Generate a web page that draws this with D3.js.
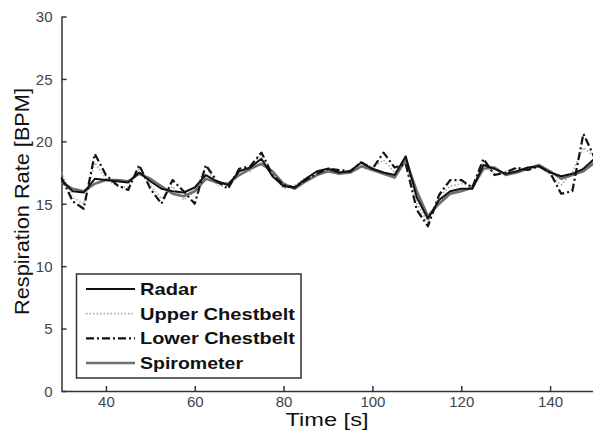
<!DOCTYPE html>
<html>
<head>
<meta charset="utf-8">
<script src="https://d3js.org/d3.v7.min.js"></script>
<style>
  html, body { margin: 0; padding: 0; background: #fff; }
  svg { display: block; }
</style>
</head>
<body>
<svg id="chart" width="593" height="439"></svg>
<script>
// Sample times (s)
const time = [30, 32.5, 35, 37.5, 40, 42.5, 45, 47.5, 50, 52.5, 55, 57.5, 60, 62.5, 65, 67.5,
  70, 72.5, 75, 77.5, 80, 82.5, 85, 87.5, 90, 92.5, 95, 97.5, 100, 102.5, 105, 107.5,
  110, 112.5, 115, 117.5, 120, 122.5, 125, 127.5, 130, 132.5, 135, 137.5, 140, 142.5,
  145, 147.5, 150];

// Respiration rate estimates (BPM) per sensor
const radar = [16.9, 16.0, 15.9, 17.0, 16.9, 16.8, 16.7, 17.5, 16.8, 16.2, 16.0, 15.9, 16.3, 17.3, 16.8, 16.5,
  17.6, 17.9, 18.6, 17.2, 16.4, 16.3, 17.0, 17.6, 17.8, 17.5, 17.6, 18.3, 17.8, 17.5, 17.3, 18.8,
  15.5, 13.8, 15.3, 16.0, 16.2, 16.2, 18.1, 17.8, 17.4, 17.6, 17.9, 18.0, 17.5, 17.2,
  17.4, 17.8, 18.6];

const upperChestbelt = [17.5, 15.5, 15.0, 18.3, 17.0, 16.4, 16.3, 17.9, 16.5, 15.4, 16.4, 15.3, 16.0, 18.0, 16.5, 16.3,
  17.8, 17.6, 19.1, 17.5, 16.2, 16.5, 17.1, 17.4, 17.9, 17.6, 17.7, 18.4, 17.9, 18.5, 17.5, 18.3,
  15.0, 13.5, 15.6, 16.4, 16.6, 16.4, 18.4, 17.4, 17.6, 17.8, 17.8, 18.0, 17.3, 16.5,
  17.5, 19.5, 18.8];

const lowerChestbelt = [17.1, 15.2, 14.6, 19.0, 17.3, 16.5, 16.1, 18.1, 16.2, 15.0, 16.9, 16.0, 15.0, 18.1, 16.8, 16.2,
  17.8, 18.0, 19.1, 17.3, 16.5, 16.3, 16.9, 17.4, 17.8, 17.7, 17.6, 18.3, 17.8, 19.1, 17.9, 18.2,
  14.5, 13.2, 15.7, 16.9, 16.9, 16.3, 18.6, 17.3, 17.5, 17.9, 17.7, 18.0, 17.5, 15.8,
  16.0, 20.6, 18.7];

const spirometer = [16.7, 16.2, 16.0, 16.6, 16.9, 16.9, 16.8, 17.4, 17.0, 16.4, 15.8, 15.6, 16.0, 17.0, 16.7, 16.6,
  17.3, 17.8, 18.2, 17.6, 16.6, 16.2, 16.8, 17.3, 17.6, 17.4, 17.5, 18.0, 17.7, 17.4, 17.1, 18.5,
  16.0, 14.0, 15.0, 15.8, 16.0, 16.3, 17.8, 17.9, 17.3, 17.5, 17.8, 18.1, 17.6, 17.0,
  17.3, 17.6, 18.3];

const xTicks = [40, 60, 80, 100, 120, 140];
const yTicks = [0, 5, 10, 15, 20, 25, 30];
const seriesNames = ["Radar", "Upper Chestbelt", "Lower Chestbelt", "Spirometer"];

const svg = d3.select("#chart");
const plotLeft = 61.5, plotRight = 594.5, plotTop = 16.5, plotBottom = 391;

const x = d3.scaleLinear().domain([30, 150]).range([plotLeft, plotRight]);
const y = d3.scaleLinear().domain([0, 30]).range([plotBottom, plotTop]);

const styles = {
  "Radar":           { stroke: "#111", width: 2,   dash: null },
  "Upper Chestbelt": { stroke: "#a8a8a8", width: 1.6, dash: "1.5,2" },
  "Lower Chestbelt": { stroke: "#111", width: 2.2, dash: "8,3,2,3" },
  "Spirometer":      { stroke: "#6e6e6e", width: 2.6, dash: null }
};
const values = {
  "Radar": radar,
  "Upper Chestbelt": upperChestbelt,
  "Lower Chestbelt": lowerChestbelt,
  "Spirometer": spirometer
};

// Axes: left and bottom only, ticks pointing inward
const axisColor = "#333";
const yAxis = svg.append("g").attr("transform", `translate(${plotLeft},0)`)
  .call(d3.axisLeft(y).tickValues(yTicks).tickSize(-5).tickPadding(9).tickSizeOuter(0));
const xAxis = svg.append("g").attr("transform", `translate(0,${plotBottom})`)
  .call(d3.axisBottom(x).tickValues(xTicks).tickSize(-5).tickPadding(5).tickSizeOuter(0));

[xAxis, yAxis].forEach(g => {
  g.select(".domain").attr("stroke", axisColor).attr("stroke-width", 1.5);
  g.selectAll(".tick line").attr("stroke", axisColor).attr("stroke-width", 1.5);
  g.selectAll(".tick text")
    .attr("fill", "#444")
    .attr("font-family", "Liberation Sans, Arial, sans-serif")
    .attr("font-size", 15);
});
yAxis.selectAll(".tick text").attr("dy", "0.35em");
xAxis.selectAll(".tick text").attr("dy", "0.71em");

// Data lines
const line = d3.line().x((d, i) => x(time[i])).y(d => y(d));
const drawOrder = ["Upper Chestbelt", "Spirometer", "Radar", "Lower Chestbelt"];
svg.append("g").selectAll("path")
  .data(drawOrder)
  .join("path")
  .attr("d", name => line(values[name]))
  .attr("fill", "none")
  .attr("stroke", name => styles[name].stroke)
  .attr("stroke-width", name => styles[name].width)
  .attr("stroke-dasharray", name => styles[name].dash)
  .attr("stroke-linejoin", "round");

// Axis titles
svg.append("text")
  .attr("x", 327).attr("y", 426)
  .attr("text-anchor", "middle")
  .attr("font-family", "Liberation Sans, Arial, sans-serif")
  .attr("font-size", 19)
  .attr("fill", "#111")
  .attr("textLength", 83).attr("lengthAdjust", "spacingAndGlyphs")
  .text("Time [s]");

svg.append("text")
  .attr("transform", "translate(29,201.5) rotate(-90)")
  .attr("text-anchor", "middle")
  .attr("font-family", "Liberation Sans, Arial, sans-serif")
  .attr("font-size", 20)
  .attr("fill", "#111")
  .attr("textLength", 227).attr("lengthAdjust", "spacingAndGlyphs")
  .text("Respiration Rate [BPM]");

// Legend
const legend = svg.append("g");
legend.append("rect")
  .attr("x", 76.5).attr("y", 274).attr("width", 224.5).attr("height", 104)
  .attr("fill", "#fff").attr("stroke", "#333").attr("stroke-width", 1.5);

const legendWidths = { "Radar": 57, "Upper Chestbelt": 155, "Lower Chestbelt": 155, "Spirometer": 103 };
const rowY = d3.scalePoint().domain(seriesNames).range([289, 363]);
const rows = legend.selectAll("g.row").data(seriesNames).join("g")
  .attr("class", "row")
  .attr("transform", d => `translate(0,${rowY(d)})`);
rows.append("line")
  .attr("x1", 86).attr("x2", 135).attr("y1", 0).attr("y2", 0)
  .attr("stroke", d => styles[d].stroke)
  .attr("stroke-width", d => styles[d].width)
  .attr("stroke-dasharray", d => styles[d].dash);
rows.append("text")
  .attr("x", 140).attr("y", 0).attr("dy", "0.36em")
  .attr("font-family", "Liberation Sans, Arial, sans-serif")
  .attr("font-weight", "bold")
  .attr("font-size", 17)
  .attr("fill", "#111")
  .attr("textLength", d => legendWidths[d]).attr("lengthAdjust", "spacingAndGlyphs")
  .text(d => d);
</script>
</body>
</html>
